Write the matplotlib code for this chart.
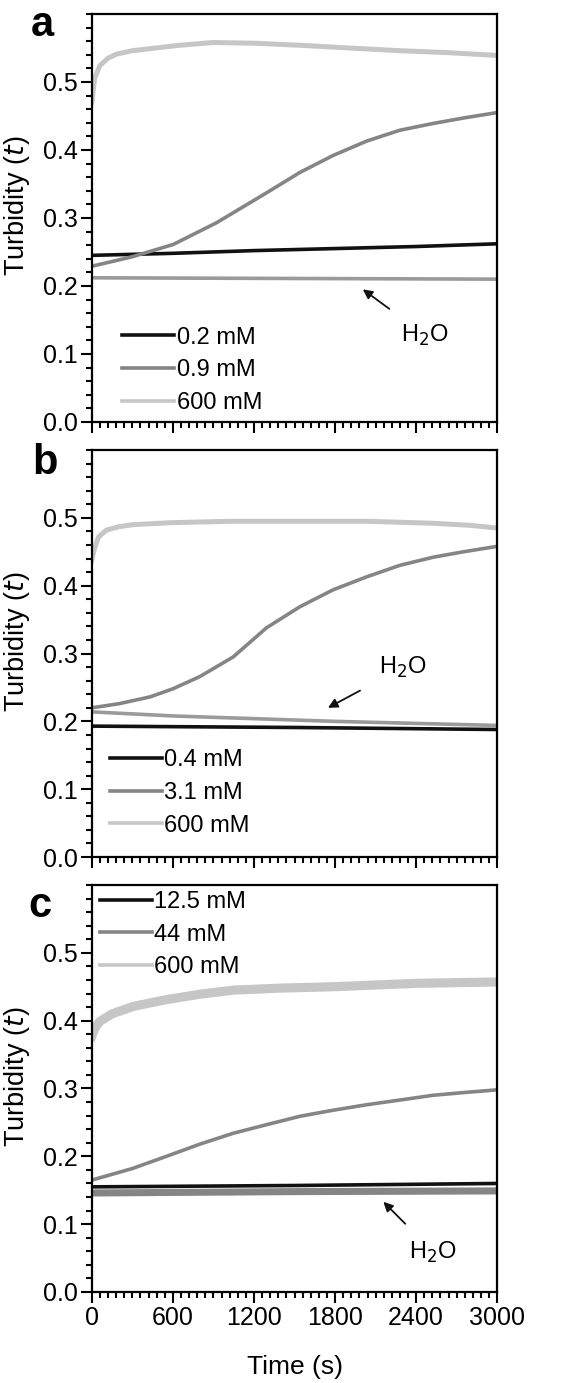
import matplotlib
matplotlib.use("Agg")
from matplotlib import pyplot as plt
from matplotlib.lines import Line2D
from matplotlib.ticker import MultipleLocator

plt.rcParams['font.family'] = ['Liberation Sans', 'DejaVu Sans']

# panel a
A_T_600 = [0, 20, 59, 120, 183, 300, 430, 650, 896, 1200, 1537, 1900, 2279, 2650, 3000]
A_600 = [0.47, 0.505, 0.524, 0.535, 0.541, 0.546, 0.549, 0.554, 0.558, 0.557, 0.554, 0.550, 0.546, 0.543, 0.539]
A_T_09 = [0, 300, 602, 923, 1293, 1540, 1786, 2033, 2279, 2526, 2750, 3000]
A_09 = [0.229, 0.243, 0.261, 0.293, 0.337, 0.367, 0.392, 0.413, 0.429, 0.439, 0.447, 0.455]
A_T_02 = [0, 600, 1200, 1800, 2400, 3000]
A_02 = [0.245, 0.248, 0.252, 0.255, 0.258, 0.262]
A_T_H2O = [0, 1500, 3000]
A_H2O = [0.212, 0.211, 0.210]

# panel b
B_T_600 = [0, 20, 50, 109, 200, 306, 600, 1046, 1600, 2033, 2526, 2800, 3000]
B_600 = [0.438, 0.455, 0.472, 0.482, 0.487, 0.490, 0.493, 0.495, 0.495, 0.495, 0.492, 0.489, 0.485]
B_T_31 = [0, 200, 429, 600, 799, 1046, 1293, 1540, 1786, 2033, 2279, 2526, 2750, 3000]
B_31 = [0.220, 0.226, 0.236, 0.248, 0.266, 0.295, 0.338, 0.369, 0.394, 0.413, 0.430, 0.442, 0.450, 0.458]
B_T_04 = [0, 1500, 3000]
B_04 = [0.193, 0.191, 0.188]
B_T_H2O = [0, 300, 600, 1200, 1800, 2400, 3000]
B_H2O = [0.214, 0.211, 0.208, 0.204, 0.200, 0.197, 0.194]

# panel c
C_T_600 = [0, 20, 59, 150, 306, 552, 800, 1046, 1400, 1786, 2400, 3000]
C_600 = [0.377, 0.388, 0.399, 0.410, 0.421, 0.431, 0.439, 0.445, 0.448, 0.450, 0.455, 0.457]
C_T_44 = [0, 300, 552, 800, 1046, 1300, 1540, 1786, 2033, 2280, 2526, 2750, 3000]
C_44 = [0.165, 0.182, 0.200, 0.218, 0.234, 0.247, 0.259, 0.268, 0.276, 0.283, 0.290, 0.294, 0.298]
C_T_125 = [0, 1500, 3000]
C_125 = [0.155, 0.157, 0.160]
C_T_H2O = [0, 1500, 3000]
C_H2O = [0.146, 0.148, 0.149]

LEGEND_A = ["0.2 mM", "0.9 mM", "600 mM"]
LEGEND_B = ["0.4 mM", "3.1 mM", "600 mM"]
LEGEND_C = ["12.5 mM", "44 mM", "600 mM"]

BLACK = "#111111"
MID = "#858585"
LIGHT = "#c6c6c6"
H2O_GRAY = "#9a9a9a"
LW = 2.6


def style_axis(ax, show_xlabels):
    ax.set_xlim(0, 3000)
    ax.set_ylim(0, 0.6)
    ax.xaxis.set_major_locator(MultipleLocator(600))
    ax.xaxis.set_minor_locator(MultipleLocator(60))
    ax.yaxis.set_minor_locator(MultipleLocator(0.02))
    ax.set_yticks([0.0, 0.1, 0.2, 0.3, 0.4, 0.5])
    ax.set_yticklabels(["0.0", "0.1", "0.2", "0.3", "0.4", "0.5"])
    ax.tick_params(which="both", direction="out", top=False, right=False, width=1.5, labelsize=18, pad=2)
    ax.tick_params(which="major", length=8)
    ax.tick_params(which="minor", length=4)
    if not show_xlabels:
        ax.tick_params(axis="x", labelbottom=False)
    for s in ax.spines.values():
        s.set_linewidth(1.6)
    ax.set_ylabel("Turbidity ($\\it{t}$)", fontsize=19.5)
    ax.yaxis.set_label_coords(-0.148, 0.53)


def add_legend(ax, labels, loc, anchor):
    handles = [Line2D([], [], color=c, lw=LW) for c in (BLACK, MID, LIGHT)]
    ax.legend(handles, labels, loc=loc, bbox_to_anchor=anchor,
              frameon=False, fontsize=17, handlelength=2.2, handletextpad=0.1,
              labelspacing=0.45, borderaxespad=0, borderpad=0)


def add_arrow(ax, head, text_pos):
    ax.annotate("H$_2$O", xy=head, xytext=text_pos, fontsize=17,
                ha="center", va="center",
                arrowprops=dict(arrowstyle="-|>", color=BLACK, lw=1.3,
                                mutation_scale=14, shrinkA=13, shrinkB=0))


def main():
    fig = plt.figure(figsize=(5.85, 13.83), dpi=100)
    left, width = 0.157, 0.693
    ax_a = fig.add_axes([left, 0.6949, width, 0.2950])
    ax_b = fig.add_axes([left, 0.3803, width, 0.2943])
    ax_c = fig.add_axes([left, 0.0658, width, 0.2943])

    # a
    ax_a.plot(A_T_H2O, A_H2O, color=H2O_GRAY, lw=LW)
    ax_a.plot(A_T_02, A_02, color=BLACK, lw=LW)
    ax_a.plot(A_T_09, A_09, color=MID, lw=LW)
    ax_a.plot(A_T_600, A_600, color=LIGHT, lw=LW + 1)
    add_legend(ax_a, LEGEND_A, "lower left", (0.075, 0.02))
    add_arrow(ax_a, (2005, 0.195), (2464, 0.128))
    style_axis(ax_a, False)

    # b
    ax_b.plot(B_T_H2O, B_H2O, color=H2O_GRAY, lw=LW)
    ax_b.plot(B_T_04, B_04, color=BLACK, lw=LW)
    ax_b.plot(B_T_31, B_31, color=MID, lw=LW)
    ax_b.plot(B_T_600, B_600, color=LIGHT, lw=LW + 1)
    add_legend(ax_b, LEGEND_B, "lower left", (0.045, 0.05))
    add_arrow(ax_b, (1747, 0.220), (2300, 0.279))
    style_axis(ax_b, False)

    # c
    ax_c.plot(C_T_H2O, C_H2O, color=MID, lw=LW + 2.5)
    ax_c.plot(C_T_125, C_125, color=BLACK, lw=LW)
    ax_c.plot(C_T_44, C_44, color=MID, lw=LW)
    ax_c.plot(C_T_600, C_600, color=LIGHT, lw=LW + 4)
    add_legend(ax_c, LEGEND_C, "upper left", (0.02, 0.985))
    add_arrow(ax_c, (2157, 0.133), (2527, 0.059))
    style_axis(ax_c, True)
    ax_c.set_xlabel("Time (s)", fontsize=19, labelpad=18)

    fig.text(0.073, 0.982, "a", fontsize=30, fontweight="bold", ha="center", va="center")
    fig.text(0.077, 0.665, "b", fontsize=30, fontweight="bold", ha="center", va="center")
    fig.text(0.068, 0.345, "c", fontsize=30, fontweight="bold", ha="center", va="center")

    fig.savefig("out.png", dpi=100)


if __name__ == '__main__':
    main()
